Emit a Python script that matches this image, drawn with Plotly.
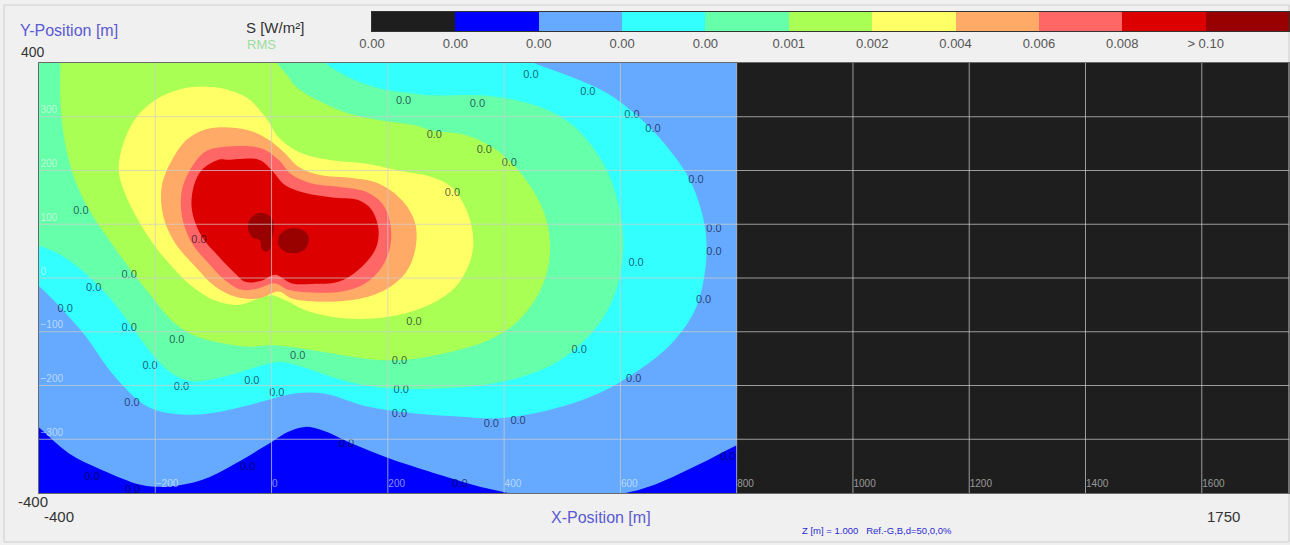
import plotly.graph_objects as go

# ---------------- values ----------------
x_range = [-400, 1750]            # X-Position [m]
y_range = [-400, 400]             # Y-Position [m]
field_x = [-400, 800]             # extent of the computed field
field_y = [-400, 400]
x_ticks = [-200, 0, 200, 400, 600, 800, 1000, 1200, 1400, 1600]
y_ticks = [-300, -200, -100, 0, 100, 200, 300]

# legend classes of S [W/m²]
class_colors = ["#1e1e1e", "#0000ff", "#66aaff", "#33ffff", "#66ffaa",
                "#aaff55", "#ffff66", "#ffaa66", "#ff6666", "#dd0000", "#990000"]
class_labels = ["0.00", "0.00", "0.00", "0.00", "0.00", "0.001",
                "0.002", "0.004", "0.006", "0.008", "> 0.10"]

iso2_sw_x = [-440, -395, -349, -292, -223, -177, -120, -62, 0, 29, 58, 86, 138, 203, 253, 310, 360, 410, 450, 450, -440]
iso2_sw_y = [-241, -283, -326, -357, -385, -388, -376, -345, -305, -286, -277, -283, -308, -336, -354, -373, -389, -401, -415, -440, -440]

iso2_se_x = [590, 600, 630, 660, 690, 720, 750, 780, 800, 800, 590]
iso2_se_y = [-410, -402, -395, -384, -370, -355, -339, -322, -311, -410, -410]

iso3_x = [-440, -440, -395, -326, -269, -212, -154, -97, -45, 0, 40, 90, 161, 247, 327, 390, 476, 562, 631, 688, 728, 745, 748, 739, 717, 676, 631, 579, 516, 447, 376, -440]
iso3_y = [440, 20, -20, -100, -184, -240, -254, -250, -238, -225, -215, -215, -238, -252, -258, -261, -246, -215, -172, -122, -60, 8, 70, 126, 188, 250, 300, 343, 374, 402, 440, 440]

iso4_x = [-440, -440, -395, -366, -326, -280, -240, -206, -171, -137, -91, -40, 0, 23, 63, 103, 161, 218, 275, 361, 430, 487, 533, 568, 591, 602, 605, 599, 582, 556, 522, 476, 419, 361, 275, 247, 189, 132, 93, 60, -440]
iso4_y = [440, 78, 58, 45, 14, -35, -91, -141, -178, -192, -186, -170, -158, -157, -169, -184, -200, -206, -206, -200, -184, -159, -122, -78, -29, 21, 70, 126, 188, 238, 281, 312, 331, 340, 340, 343, 352, 374, 400, 440, 440]

iso5_x = [-363, -363, -363, -355, -338, -311, -275, -240, -206, -171, -137, -91, -40, 0, 46, 103, 161, 218, 275, 321, 373, 419, 453, 473, 479, 473, 453, 419, 379, 333, 275, 247, 189, 132, 92, 46, 26, 6, -15, -363]
iso5_y = [440, 405, 324, 250, 182, 122, 64, 12, -35, -80, -105, -120, -128, -125, -130, -140, -150, -153, -145, -134, -116, -85, -41, 8, 58, 107, 157, 207, 244, 266, 275, 284, 293, 306, 324, 352, 378, 405, 440, 440]

iso6_x = [-263, -240, -200, -154, -97, -45, -11, 12, 46, 103, 161, 218, 275, 310, 333, 344, 347, 338, 316, 275, 218, 161, 103, 58, 23, 0, -23, -57, -97, -143, -171, -200, -229, -252, -263]
iso6_y = [207, 287, 331, 352, 355, 337, 300, 262, 235, 219, 213, 200, 188, 169, 132, 96, 59, 21, -17, -48, -69, -76, -72, -60, -41, -32, -38, -50, -42, -10, 21, 58, 107, 157, 207]

iso7_x = [-103, -40, -5, 23, 46, 81, 138, 184, 224, 247, 247, 230, 190, 138, 81, 35, 12, -22, -62, -97, -131, -166, -186, -189, -171, -143, -103]
iso7_y = [279, 275, 257, 232, 207, 192, 186, 176, 145, 102, 52, 9, -25, -41, -44, -38, -25, -38, -35, -16, 21, 65, 114, 170, 220, 260, 279]

iso8_x = [-80, -17, 12, 35, 69, 115, 161, 190, 204, 204, 190, 161, 121, 69, 29, 6, -22, -51, -80, -108, -137, -154, -154, -137, -114, -80]
iso8_y = [244, 241, 220, 192, 176, 170, 161, 139, 102, 58, 21, -10, -25, -27, -22, -10, -19, -22, -4, 27, 65, 114, 164, 207, 235, 244]

iso9_x = [-74, -22, 0, 23, 58, 104, 149, 172, 184, 178, 149, 115, 69, 35, 6, -17, -45, -63, -91, -120, -137, -134, -120, -91, -74]
iso9_y = [220, 220, 201, 173, 158, 150, 145, 127, 89, 52, 15, -7, -11, -10, 6, -5, -7, 9, 40, 77, 127, 170, 201, 220, 220]

iso10a_x = [-22, -5, 3, 3, 0, -2, -10, -17, -20, -32, -40, -38, -22]
iso10a_y = [121, 117, 105, 85, 70, 55, 49, 55, 70, 75, 90, 108, 121]
iso10b_x = [25, 45, 60, 64, 57, 40, 22, 12, 13, 25]
iso10b_y = [90, 92, 84, 70, 53, 46, 50, 62, 78, 90]

# iso-line value labels ("0.0")
label_x = [446, 227, 354, 544, 620, 656, 280, 366, 409, 730, 311, -328, -125, 761, 761, 627, -245, -306, 743, -355,
           -245, 245, -163, 45, 529, -209, 220, -155, -34, 623, 223, -240, 220, 378, 424, -41, 129, -309, -239, 324,
           785, 9]
label_y = [378, 329, 324, 346, 303, 277, 266, 238, 214, 182, 158, 125, 71, 91, 48, 28, 6, -19, -41, -58,
           -93, -82, -115, -145, -134, -164, -154, -203, -193, -188, -208, -233, -253, -272, -266, -352, -309, -370, -394, -383,
           -333, -214]
label_text = "0.0"

# ---------------- figure ----------------
FONT = "Liberation Sans, Arial, sans-serif"
fig = go.Figure()


def area(xs, ys, cls, shape="spline"):
    fig.add_trace(go.Scatter(
        x=xs, y=ys, mode="lines", fill="toself", fillcolor=class_colors[cls],
        line=dict(width=0, shape=shape, smoothing=1.0, color=class_colors[cls]),
        hoverinfo="skip", showlegend=False))


# field background (light blue class) and the nested class areas
area([field_x[0], field_x[1], field_x[1], field_x[0], field_x[0]],
     [field_y[0], field_y[0], field_y[1], field_y[1], field_y[0]], 2, "linear")
area(iso2_sw_x, iso2_sw_y, 1)
area(iso2_se_x, iso2_se_y, 1, "linear")
area(iso3_x, iso3_y, 3)
area(iso4_x, iso4_y, 4)
area(iso5_x, iso5_y, 5)
area(iso6_x, iso6_y, 6)
area(iso7_x, iso7_y, 7)
area(iso8_x, iso8_y, 8)
area(iso9_x, iso9_y, 9)
area(iso10a_x, iso10a_y, 10)
area(iso10b_x, iso10b_y, 10)

fig.add_trace(go.Scatter(
    x=label_x, y=label_y, mode="text", text=[label_text] * len(label_x),
    textfont=dict(family=FONT, size=11, color="rgba(0,0,40,0.66)"),
    hoverinfo="skip", showlegend=False))

# legend bar
n = len(class_colors)
cscale = []
for i, c in enumerate(class_colors):
    cscale.append([i / n, c])
    cscale.append([(i + 1) / n, c])
fig.add_trace(go.Heatmap(
    x=list(range(n)), y=[0], z=[list(range(n))], colorscale=cscale,
    zmin=-0.5, zmax=n - 0.5, showscale=False, xaxis="x2", yaxis="y2",
    hoverinfo="skip"))

L, R, T, B, W, H = 39, 1, 10, 52, 1290, 545
PW, PH = W - L - R, H - T - B


def px(v):
    return (v - L) / PW


def py(v):
    return (H - B - v) / PH


grid_color = "rgba(205,205,205,0.72)"
shapes = [dict(type="rect", xref="paper", yref="paper", x0=px(4), x1=px(1289), y0=py(542), y1=py(5),
               fillcolor="rgba(0,0,0,0)", line=dict(color="#cdcdcd", width=1), layer="below")]
for v in x_ticks:
    shapes.append(dict(type="line", xref="x", yref="y", x0=v, x1=v, y0=y_range[0], y1=y_range[1],
                       line=dict(color=grid_color, width=1), layer="above"))
for v in y_ticks:
    shapes.append(dict(type="line", xref="x", yref="y", x0=x_range[0], x1=x_range[1], y0=v, y1=v,
                       line=dict(color=grid_color, width=1), layer="above"))

tick_font = dict(family=FONT, size=10, color="rgba(255,255,255,0.55)")
axis_title_color = "#5a5ad2"
ann = [
    dict(text="Y-Position [m]", x=px(18), y=py(31), xanchor="left", font=dict(size=16, color=axis_title_color)),
    dict(text=str(y_range[1]), x=px(19), y=py(52), xanchor="left", font=dict(size=14, color="#333333")),
    dict(text="S [W/m²]", x=px(244), y=py(28), xanchor="left", font=dict(size=15, color="#333333")),
    dict(text="RMS", x=px(245), y=py(45), xanchor="left", font=dict(size=13, color="#9ddd9d")),
    dict(text=str(y_range[0]), x=px(16), y=py(502), xanchor="left", font=dict(size=15, color="#333333")),
    dict(text=str(x_range[0]), x=px(42), y=py(516), xanchor="left", font=dict(size=15, color="#333333")),
    dict(text="X-Position [m]", x=px(601), y=py(517), xanchor="center", font=dict(size=16, color=axis_title_color)),
    dict(text=str(x_range[1]), x=px(1223), y=py(516), xanchor="center", font=dict(size=15, color="#333333")),
    dict(text="Z [m] = 1.000\u00a0\u00a0\u00a0Ref.-G,B,d=50,0,0%", x=px(800), y=py(530), xanchor="left",
         font=dict(size=9.5, color="#2a2ad2")),
]
for a in ann:
    a.update(xref="paper", yref="paper", yanchor="middle", showarrow=False)
    a["font"]["family"] = FONT

fig.update_layout(
    width=W, height=H, margin=dict(l=L, r=R, t=T, b=B),
    paper_bgcolor="#f0f0f0", plot_bgcolor="#1e1e1e",
    font=dict(family=FONT), showlegend=False,
    shapes=shapes, annotations=ann,
    xaxis=dict(domain=[0, 1], range=x_range, anchor="y", showgrid=False, zeroline=False,
               tickvals=x_ticks, ticks="", ticklabelposition="inside right", tickfont=tick_font,
               showline=True, mirror=True, linecolor="#6a6a6a", linewidth=1, layer="above traces",
               fixedrange=True),
    yaxis=dict(domain=[0, py(63)], range=y_range, anchor="x", showgrid=False, zeroline=False,
               tickvals=y_ticks, ticks="", ticklabelposition="inside top", tickfont=tick_font,
               showline=True, mirror=True, linecolor="#6a6a6a", linewidth=1, layer="above traces",
               fixedrange=True),
    xaxis2=dict(domain=[px(372), 1.0], range=[-0.5, n - 0.5], anchor="y2", showgrid=False, zeroline=False,
                tickvals=[i - 0.5 for i in range(n)], ticktext=class_labels, ticks="",
                tickfont=dict(family=FONT, size=13, color="#555555"), ticklabelstandoff=0,
                showline=True, mirror=True, linecolor="#333333", linewidth=1, fixedrange=True),
    yaxis2=dict(domain=[py(31), py(12)], range=[-0.5, 0.5], anchor="x2", showgrid=False, zeroline=False,
                showticklabels=False, ticks="", showline=True, mirror=True, linecolor="#333333",
                linewidth=1, fixedrange=True),
)

fig.write_html("out.html", config={"displayModeBar": False},
               post_script="document.body.style.margin='0';document.body.style.overflow='hidden';")
